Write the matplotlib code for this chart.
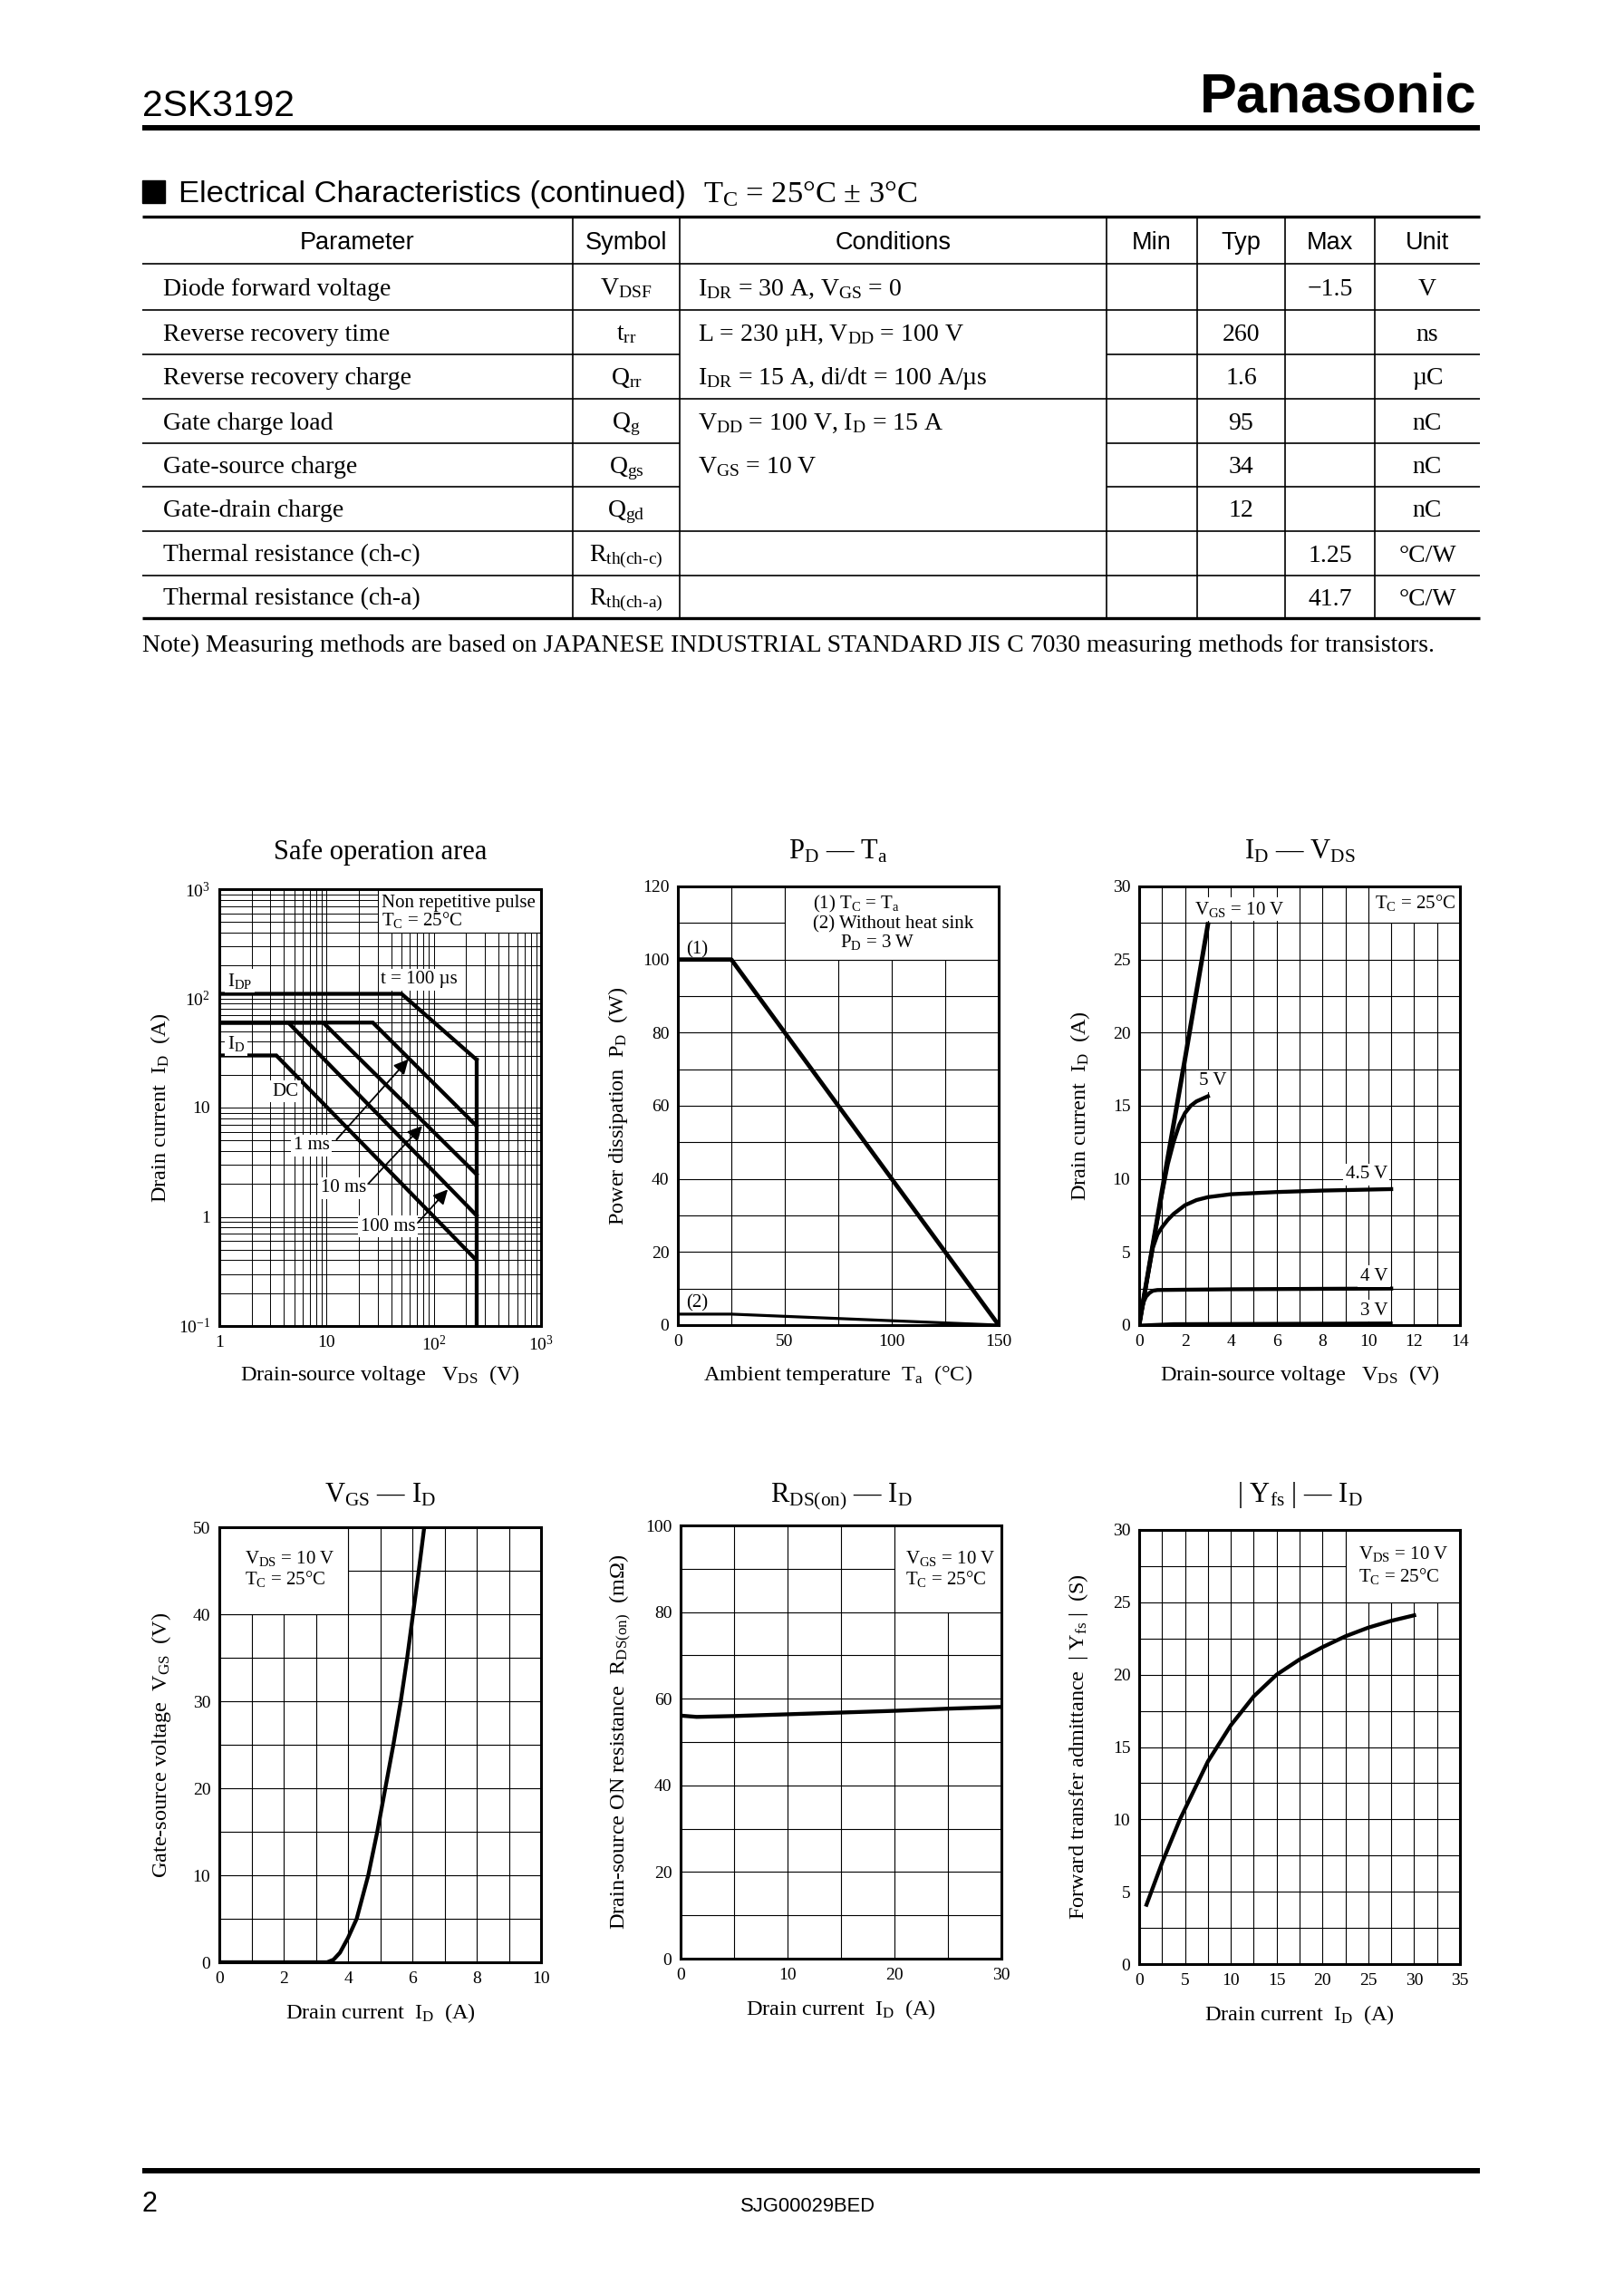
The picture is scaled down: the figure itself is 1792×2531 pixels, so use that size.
import matplotlib
matplotlib.use("Agg")
import matplotlib.pyplot as plt
from matplotlib.patches import Rectangle
from matplotlib.ticker import MultipleLocator, NullFormatter

W, H = 1792, 2531
SERIF = "Liberation Serif"
SANS = "Liberation Sans"

plt.rcParams["font.family"] = [SERIF, "DejaVu Serif"]
plt.rcParams["mathtext.fontset"] = "custom"
plt.rcParams["mathtext.rm"] = SERIF
plt.rcParams["mathtext.it"] = SERIF + ":italic"
plt.rcParams["mathtext.bf"] = SERIF + ":bold"
plt.rcParams["mathtext.default"] = "rm"

# ---------------- table data ----------------
col_names = ["Parameter", "Symbol", "Conditions", "Min", "Typ", "Max", "Unit"]
params = ["Diode forward voltage", "Reverse recovery time", "Reverse recovery charge",
          "Gate charge load", "Gate-source charge", "Gate-drain charge",
          "Thermal resistance (ch-c)", "Thermal resistance (ch-a)"]
symbols = ["V$_{DSF}$", "t$_{rr}$", "Q$_{rr}$", "Q$_{g}$", "Q$_{gs}$", "Q$_{gd}$",
           r"R$_{th(ch\text{-}c)}$", r"R$_{th(ch\text{-}a)}$"]
conditions = ["I$_{DR}$ = 30 A, V$_{GS}$ = 0", "L = 230 µH, V$_{DD}$ = 100 V",
              "I$_{DR}$ = 15 A, di/dt = 100 A/µs", "V$_{DD}$ = 100 V, I$_{D}$ = 15 A",
              "V$_{GS}$ = 10 V", "", "", ""]
min_vals = ["", "", "", "", "", "", "", ""]
typ_vals = ["", "260", "1.6", "95", "34", "12", "", ""]
max_vals = ["\u22121.5", "", "", "", "", "", "1.25", "41.7"]
units = ["V", "ns", "µC", "nC", "nC", "nC", "°C/W", "°C/W"]
merged_after = [1, 3, 4]  # rows whose line does not cross the conditions cell

# ---------------- chart data ----------------
# safe operation area
soa_idp_v = [1, 50, 250]
soa_idp_i = [110, 110, 27.5]
soa_1ms_v = [1, 27, 250]
soa_1ms_i = [60, 60, 6.8]
soa_10ms_v = [1, 9.3, 250]
soa_10ms_i = [60, 60, 2.45]
soa_100ms_v = [1, 4.4, 250]
soa_100ms_i = [60, 60, 1.03]
soa_dc_v = [1, 3.4, 250]
soa_dc_i = [30, 30, 0.4]
soa_vdss_v = [250, 250]
soa_vdss_i = [27.5, 0.1]

# PD - Ta
ta_1 = [0, 25, 150]
pd_1 = [100, 100, 0]
ta_2 = [0, 25, 150]
pd_2 = [3, 3, 0]

# ID - VDS
vds_10v = [0, 1, 2, 3]
id_10v = [0, 9.2, 18.2, 27.4]
vds_5v = [0, 0.5, 1, 1.25, 1.5, 1.75, 2, 2.25, 2.5, 3]
id_5v = [0, 4.6, 9.0, 11.0, 12.5, 13.7, 14.5, 15.0, 15.3, 15.65]
vds_45v = [0, 0.3, 0.6, 0.8, 1.0, 1.25, 1.5, 2, 2.5, 3, 4, 6, 8, 11]
id_45v = [0, 2.7, 5.3, 6.2, 6.7, 7.2, 7.6, 8.2, 8.55, 8.75, 8.95, 9.1, 9.2, 9.3]
vds_4v = [0, 0.1, 0.2, 0.3, 0.45, 0.6, 0.8, 2, 4, 8, 11]
id_4v = [0, 1.0, 1.6, 1.95, 2.2, 2.35, 2.4, 2.42, 2.45, 2.48, 2.5]
vds_3v = [0, 1.5, 11]
id_3v = [0, 0.1, 0.15]

# VGS - ID
vgs_id = [0, 3.35, 3.55, 3.75, 4.0, 4.27, 4.63, 4.91, 5.16, 5.41, 5.64, 5.84, 6.02, 6.2, 6.37]
vgs_v = [0, 0, 0.3, 1.1, 2.8, 5, 10, 15, 20, 25, 30, 35, 40, 45, 50]

# RDS(on) - ID
rds_id = [0, 1.5, 5, 10, 15, 20, 25, 30]
rds_v = [56.1, 55.8, 56.0, 56.4, 56.8, 57.2, 57.7, 58.1]

# |Yfs| - ID
yfs_id = [0.8, 2.5, 4.45, 7.5, 10, 12.5, 15, 17.5, 20, 22.5, 25, 27.5, 30]
yfs_v = [4.1, 7.0, 10.0, 14.0, 16.5, 18.5, 20.0, 21.05, 21.9, 22.65, 23.25, 23.72, 24.1]

# ---------------- page ----------------
fig = plt.figure(figsize=(W / 100, H / 100), dpi=100)
pg = fig.add_axes([0, 0, 1, 1])
pg.set_xlim(0, W)
pg.set_ylim(H, 0)
pg.axis("off")


def hline(x0, x1, y, lw):
    pg.plot([x0, x1], [y, y], color="black", lw=lw, solid_capstyle="butt")


LEFT, RIGHT = 157, 1633
pg.text(LEFT, 128, "2SK3192", family=SANS, fontsize=29.4, va="baseline")
pg.text(RIGHT - 4, 124, "Panasonic", family=SANS, weight="bold", fontsize=44,
        ha="right", va="baseline")
hline(LEFT, RIGHT, 141, 4.3)

pg.add_patch(Rectangle((LEFT, 199), 25, 25, color="black"))
pg.text(197, 223, "Electrical Characteristics (continued)", family=SANS,
        fontsize=24.8, va="baseline")
pg.text(776, 223, "T$_{C}$ = 25°C ± 3°C", fontsize=24.8, va="baseline")

col_x = [157, 632, 750, 1221, 1321, 1418, 1517, 1633]
row_y = [239, 291, 342, 391, 440, 489, 537, 586, 635, 682]

hline(LEFT, RIGHT, row_y[0], 2.4)
hline(LEFT, RIGHT, row_y[1], 1.2)
for i in range(2, len(row_y) - 1):
    if (i - 2) in merged_after:
        hline(LEFT, col_x[2], row_y[i], 1.2)
        hline(col_x[3], RIGHT, row_y[i], 1.2)
    else:
        hline(LEFT, RIGHT, row_y[i], 1.2)
hline(LEFT, RIGHT, row_y[-1], 2.4)
for x in col_x[1:-1]:
    pg.plot([x, x], [row_y[0], row_y[-1]], color="black", lw=1.2)

for j, name in enumerate(col_names):
    pg.text((col_x[j] + col_x[j + 1]) / 2, (row_y[0] + row_y[1]) / 2 + 10, name,
            family=SANS, fontsize=19.5, ha="center", va="baseline")

for i in range(len(params)):
    yb = (row_y[i + 1] + row_y[i + 2]) / 2 + 9
    pg.text(180, yb, params[i], fontsize=20, va="baseline")
    pg.text((col_x[1] + col_x[2]) / 2, yb, symbols[i], fontsize=20, ha="center", va="baseline")
    if conditions[i]:
        pg.text(770, yb, conditions[i], fontsize=20, va="baseline")
    for j, vals in zip(range(3, 7), [min_vals, typ_vals, max_vals, units]):
        if vals[i]:
            pg.text((col_x[j] + col_x[j + 1]) / 2, yb, vals[i], fontsize=20,
                    ha="center", va="baseline")

pg.text(LEFT, 719, "Note) Measuring methods are based on JAPANESE INDUSTRIAL STANDARD JIS C 7030 "
        "measuring methods for transistors.", fontsize=20, va="baseline")

hline(LEFT, RIGHT, 2395, 4.3)
pg.text(LEFT, 2440, "2", family=SANS, fontsize=22, va="baseline")
pg.text(891, 2440, "SJG00029BED", family=SANS, fontsize=15.8, ha="center", va="baseline")


# ---------------- charts ----------------
def make_chart(box, title, xlabel, ylabel, ylab_px, xlab_py, title_py):
    l, t, r, b = box
    ax = fig.add_axes([l / W, 1 - b / H, (r - l) / W, (b - t) / H])
    ax.set_axisbelow(True)
    ax.tick_params(which="both", length=0, labelsize=14, pad=7, colors="black")
    for s in ax.spines.values():
        s.set_linewidth(2.2)
        s.set_zorder(4)
    ax.set_xlabel(xlabel, fontsize=17.5, va="center")
    ax.xaxis.set_label_coords(0.5, (b - xlab_py) / (b - t))
    ax.set_ylabel(ylabel, fontsize=17.5, va="center")
    ax.yaxis.set_label_coords((ylab_px - l) / (r - l), 0.5)
    ax.text(0.5, (b - title_py) / (b - t), title, transform=ax.transAxes,
            ha="center", va="baseline", fontsize=22)
    return ax


def linear_grid(ax, xlim, ylim, xmaj, xmin, ymaj, ymin):
    ax.set_xlim(*xlim)
    ax.set_ylim(*ylim)
    ax.xaxis.set_major_locator(MultipleLocator(xmaj))
    ax.xaxis.set_minor_locator(MultipleLocator(xmin))
    ax.yaxis.set_major_locator(MultipleLocator(ymaj))
    ax.yaxis.set_minor_locator(MultipleLocator(ymin))
    ax.grid(which="both", color="black", lw=0.8)


def cover(ax, x0, x1, y0, y1):
    ax.add_patch(Rectangle((x0, y0), x1 - x0, y1 - y0, facecolor="white",
                           edgecolor="black", lw=0.8, zorder=1))


WHITE = dict(boxstyle="square,pad=0.12", fc="white", ec="none")
CURVE = 3.1
ANN = 15

# Safe operation area
ax = make_chart((242, 981, 597, 1463), "Safe operation area",
                "Drain-source voltage   V$_{DS}$  (V)", "Drain current  I$_{D}$  (A)",
                177, 1517, 948)
ax.set_xscale("log")
ax.set_yscale("log")
ax.set_xlim(1, 1000)
ax.set_ylim(0.1, 1000)
ax.set_xticks([1, 10, 100, 1000], ["1", "10", r"$\mathrm{10^{2}}$", r"$\mathrm{10^{3}}$"])
ax.set_yticks([0.1, 1, 10, 100, 1000],
              [r"$\mathrm{10^{-1}}$", "1", "10", r"$\mathrm{10^{2}}$", r"$\mathrm{10^{3}}$"])
ax.xaxis.set_minor_formatter(NullFormatter())
ax.yaxis.set_minor_formatter(NullFormatter())
ax.grid(which="both", color="black", lw=0.7)
cover(ax, 30, 1000, 400, 1000)
for v, i in [(soa_idp_v, soa_idp_i), (soa_1ms_v, soa_1ms_i), (soa_10ms_v, soa_10ms_i),
             (soa_100ms_v, soa_100ms_i), (soa_dc_v, soa_dc_i), (soa_vdss_v, soa_vdss_i)]:
    ax.plot(v, i, color="black", lw=CURVE, solid_joinstyle="miter", zorder=2)
ax.text(32.6, 681, "Non repetitive pulse", fontsize=ANN, va="baseline")
ax.text(32.6, 467, "T$_{C}$ = 25°C", fontsize=ANN, va="baseline")
ax.text(1.19, 130, "I$_{DP}$", fontsize=ANN, va="baseline", bbox=WHITE)
ax.text(32.0, 136, "t = 100 µs", fontsize=ANN, va="baseline", bbox=WHITE)
ax.text(1.19, 34.3, "I$_{D}$", fontsize=ANN, va="baseline", bbox=WHITE)
ax.text(3.1, 12.9, "DC", fontsize=ANN, va="baseline", bbox=WHITE)
ax.text(4.93, 4.12, "1 ms", fontsize=ANN, va="baseline", bbox=WHITE)
ax.text(8.8, 1.69, "10 ms", fontsize=ANN, va="baseline", bbox=WHITE)
ax.text(20.8, 0.745, "100 ms", fontsize=ANN, va="baseline", bbox=WHITE)
for tail, head in [((12.4, 5.1), (58, 27.7)), ((24.4, 2.0), (78, 6.8)),
                   ((70.8, 0.88), (135, 1.78))]:
    ax.annotate("", xy=head, xytext=tail, zorder=3,
                arrowprops=dict(arrowstyle="-|>", color="black", lw=1.3,
                                mutation_scale=24, shrinkA=0, shrinkB=0))

# PD - Ta
ax = make_chart((748, 978, 1102, 1462), "P$_{D}$ — T$_{a}$",
                "Ambient temperature  T$_{a}$  (°C)", "Power dissipation  P$_{D}$  (W)",
                682, 1517, 948)
linear_grid(ax, (0, 150), (0, 120), 50, 25, 20, 10)
cover(ax, 50, 150, 100, 120)
ax.plot(ta_1, pd_1, color="black", lw=CURVE + 0.3, zorder=2)
ax.plot(ta_2, pd_2, color="black", lw=2.3, zorder=2)
ax.text(4, 101.5, "(1)", fontsize=ANN, va="baseline")
ax.text(4, 4.9, "(2)", fontsize=ANN, va="baseline")
ax.text(63.2, 113.9, "(1) T$_{C}$ = T$_{a}$", fontsize=ANN, va="baseline")
ax.text(63.2, 108.5, "(2) Without heat sink", fontsize=ANN, va="baseline")
ax.text(75.9, 103.4, "P$_{D}$ = 3 W", fontsize=ANN, va="baseline")

# ID - VDS
ax = make_chart((1257, 978, 1611, 1462), "I$_{D}$ — V$_{DS}$",
                "Drain-source voltage   V$_{DS}$  (V)", "Drain current  I$_{D}$  (A)",
                1192, 1517, 948)
linear_grid(ax, (0, 14), (0, 30), 2, 1, 5, 2.5)
cover(ax, 10, 14, 27.5, 30)
ax.plot(vds_10v, id_10v, color="black", lw=3.6, zorder=2)
ax.plot(vds_5v, id_5v, color="black", lw=CURVE, zorder=2)
ax.plot(vds_45v, id_45v, color="black", lw=CURVE, zorder=2)
ax.plot(vds_4v, id_4v, color="black", lw=CURVE, zorder=2)
ax.plot(vds_3v, id_3v, color="black", lw=2.2, zorder=2)
ax.text(2.41, 28.1, "V$_{GS}$ = 10 V", fontsize=ANN, va="baseline", bbox=WHITE)
ax.text(10.3, 28.5, "T$_{C}$ = 25°C", fontsize=ANN, va="baseline")
ax.text(2.6, 16.4, "5 V", fontsize=ANN, va="baseline", bbox=WHITE)
ax.text(9.0, 10.04, "4.5 V", fontsize=ANN, va="baseline", bbox=WHITE)
ax.text(9.63, 3.05, "4 V", fontsize=ANN, va="baseline", bbox=WHITE)
ax.text(9.63, 0.69, "3 V", fontsize=ANN, va="baseline", bbox=WHITE)

# VGS - ID
ax = make_chart((242, 1685, 597, 2165), "V$_{GS}$ — I$_{D}$",
                "Drain current  I$_{D}$  (A)", "Gate-source voltage  V$_{GS}$  (V)",
                178, 2221, 1657)
linear_grid(ax, (0, 10), (0, 50), 2, 1, 10, 5)
cover(ax, 0, 4, 40, 50)
ax.plot(vgs_id, vgs_v, color="black", lw=CURVE, zorder=2)
ax.text(0.78, 45.8, "V$_{DS}$ = 10 V", fontsize=ANN, va="baseline")
ax.text(0.78, 43.4, "T$_{C}$ = 25°C", fontsize=ANN, va="baseline")

# RDS(on) - ID
ax = make_chart((751, 1683, 1105, 2161), "R$_{DS(on)}$ — I$_{D}$",
                "Drain current  I$_{D}$  (A)",
                "Drain-source ON resistance  R$_{DS(on)}$  (mΩ)",
                685, 2217, 1657)
linear_grid(ax, (0, 30), (0, 100), 10, 5, 20, 10)
cover(ax, 20, 30, 80, 100)
ax.plot(rds_id, rds_v, color="black", lw=CURVE, zorder=2)
ax.text(21.0, 91.3, "V$_{GS}$ = 10 V", fontsize=ANN, va="baseline")
ax.text(21.0, 86.4, "T$_{C}$ = 25°C", fontsize=ANN, va="baseline")

# |Yfs| - ID
ax = make_chart((1257, 1688, 1611, 2167), "| Y$_{fs}$ | — I$_{D}$",
                "Drain current  I$_{D}$  (A)",
                "Forward transfer admittance  | Y$_{fs}$ |  (S)",
                1190, 2223, 1657)
linear_grid(ax, (0, 35), (0, 30), 5, 2.5, 5, 2.5)
cover(ax, 22.5, 35, 25, 30)
ax.plot(yfs_id, yfs_v, color="black", lw=CURVE, zorder=2)
ax.text(23.9, 27.97, "V$_{DS}$ = 10 V", fontsize=ANN, va="baseline")
ax.text(23.9, 26.44, "T$_{C}$ = 25°C", fontsize=ANN, va="baseline")

fig.savefig("out.png", dpi=100, facecolor="white")
